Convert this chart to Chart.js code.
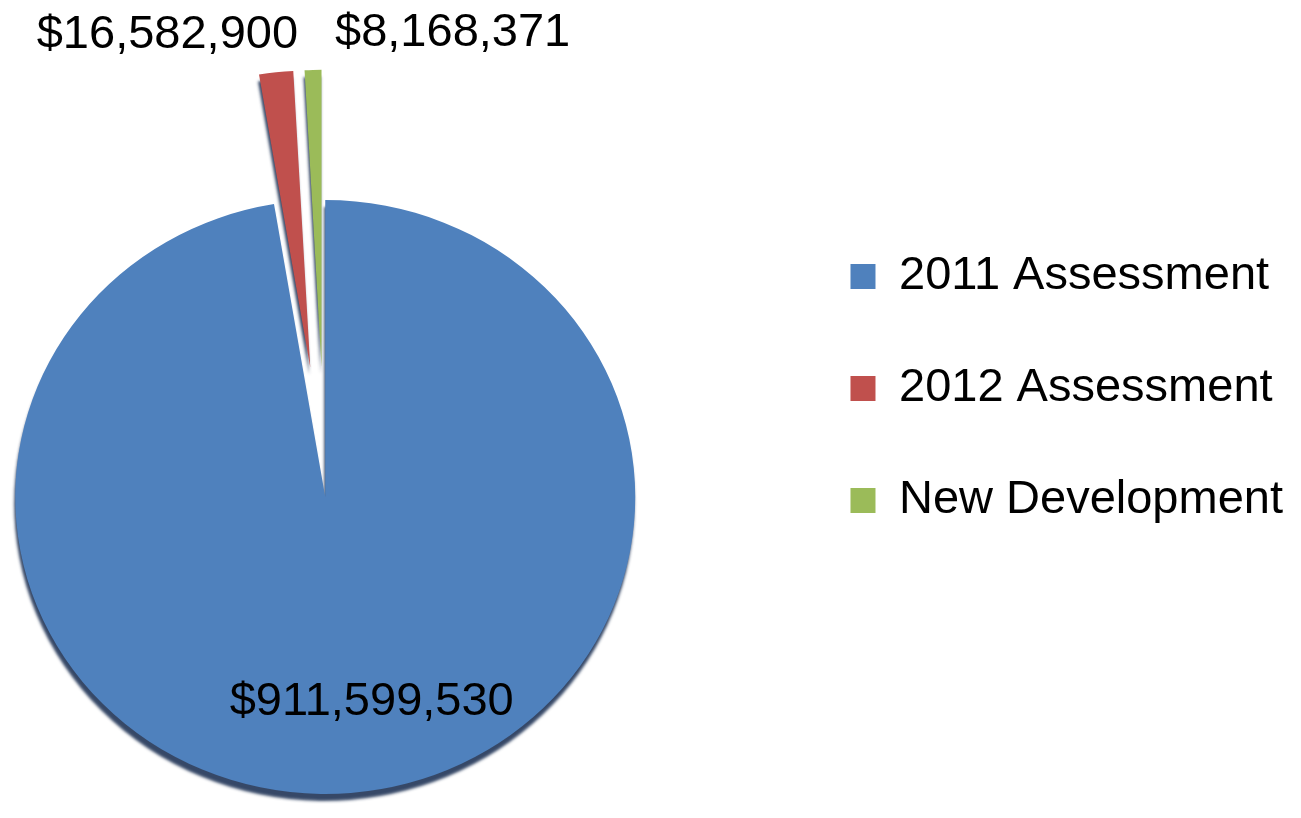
<!DOCTYPE html>
<html lang="en">
<head>
<meta charset="UTF-8">
<title>Assessment Breakdown</title>
<script src="https://cdn.jsdelivr.net/npm/chart.js"></script>
<style>
  html, body { margin: 0; padding: 0; background: #fff; overflow: hidden; }
  /* canvas runs a bit past the left edge so the pie sits left of the middle */
  #wrap { position: absolute; left: -135px; top: 0; width: 1436px; height: 818px; }
</style>
</head>
<body>
<div id="wrap"><canvas id="myChart"></canvas></div>
<script>
const categories = ['2011 Assessment', '2012 Assessment', 'New Development'];
const values = [911599530, 16582900, 8168371];
const colors = ['#4F81BD', '#C0504D', '#9BBB59'];

const FONT = "'Liberation Sans', Arial, sans-serif";
const SQUASH = 0.958; // flatten the pie a little so it looks tilted

function money(v) {
    return '$' + v.toLocaleString('en-US');
}

// pull slices straight out along their middle angle (keeps full angle and radius)
const explodeSlices = {
    id: 'explodeSlices',
    afterDatasetsUpdate(chart, args, opts) {
        chart.getDatasetMeta(0).data.forEach((arc, i) => {
            const d = opts.distance[i] || 0;
            if (!d) return;
            const mid = (arc.startAngle + arc.endAngle) / 2;
            arc.x += Math.cos(mid) * d;
            arc.y += Math.sin(mid) * d;
        });
    }
};

// squash the pie vertically and give it a dark rim underneath
const tilt = {
    id: 'tilt',
    beforeDatasetsDraw(chart) {
        const arc = chart.getDatasetMeta(0).data[0];
        const ctx = chart.ctx;
        ctx.save();
        ctx.translate(arc.x, arc.y);
        ctx.scale(1, SQUASH);
        ctx.translate(-arc.x, -arc.y);
        ctx.shadowColor = 'rgba(32, 52, 86, 0.9)';
        ctx.shadowBlur = 3;
        ctx.shadowOffsetX = -1;
        ctx.shadowOffsetY = 7;
    },
    afterDatasetsDraw(chart) {
        chart.ctx.restore();
    }
};

// dollar amounts next to / inside each slice
const valueLabels = {
    id: 'valueLabels',
    afterDatasetsDraw(chart, args, opts) {
        const ctx = chart.ctx;
        const arcs = chart.getDatasetMeta(0).data;
        const cy = arcs[0].y;
        ctx.save();
        ctx.font = '47px ' + FONT;
        ctx.fillStyle = '#000';
        arcs.forEach((arc, i) => {
            const mid = (arc.startAngle + arc.endAngle) / 2;
            const R = arc.outerRadius;
            const text = money(values[i]);
            if (opts.align[i] === 'center') {
                ctx.textAlign = 'center';
                ctx.textBaseline = 'middle';
                ctx.fillText(text, arc.x + R * 0.15, cy + R * 0.69 * SQUASH);
                return;
            }
            const ox = arc.x + Math.cos(mid) * R;
            const oy = cy + (arc.y + Math.sin(mid) * R - cy) * SQUASH;
            ctx.textAlign = opts.align[i];
            ctx.textBaseline = 'alphabetic';
            ctx.fillText(text, ox + 22, oy - 24);
        });
        ctx.restore();
    }
};

new Chart(document.getElementById('myChart'), {
    type: 'pie',
    data: {
        labels: categories,
        datasets: [{
            data: values,
            backgroundColor: colors,
            borderWidth: 0,
            radius: 310
        }]
    },
    options: {
        responsive: true,
        maintainAspectRatio: false,
        animation: false,
        layout: {
            padding: { left: 0, right: 8, top: 188, bottom: 12 }
        },
        plugins: {
            legend: {
                position: 'right',
                align: 'start',
                labels: {
                    color: '#000',
                    font: { size: 47, family: FONT },
                    boxWidth: 25,
                    boxHeight: 25,
                    padding: 65
                }
            },
            tooltip: { enabled: false },
            explodeSlices: { distance: [0, 136, 136] },
            valueLabels: { align: ['center', 'right', 'left'] }
        }
    },
    plugins: [explodeSlices, tilt, valueLabels]
});
</script>
</body>
</html>
